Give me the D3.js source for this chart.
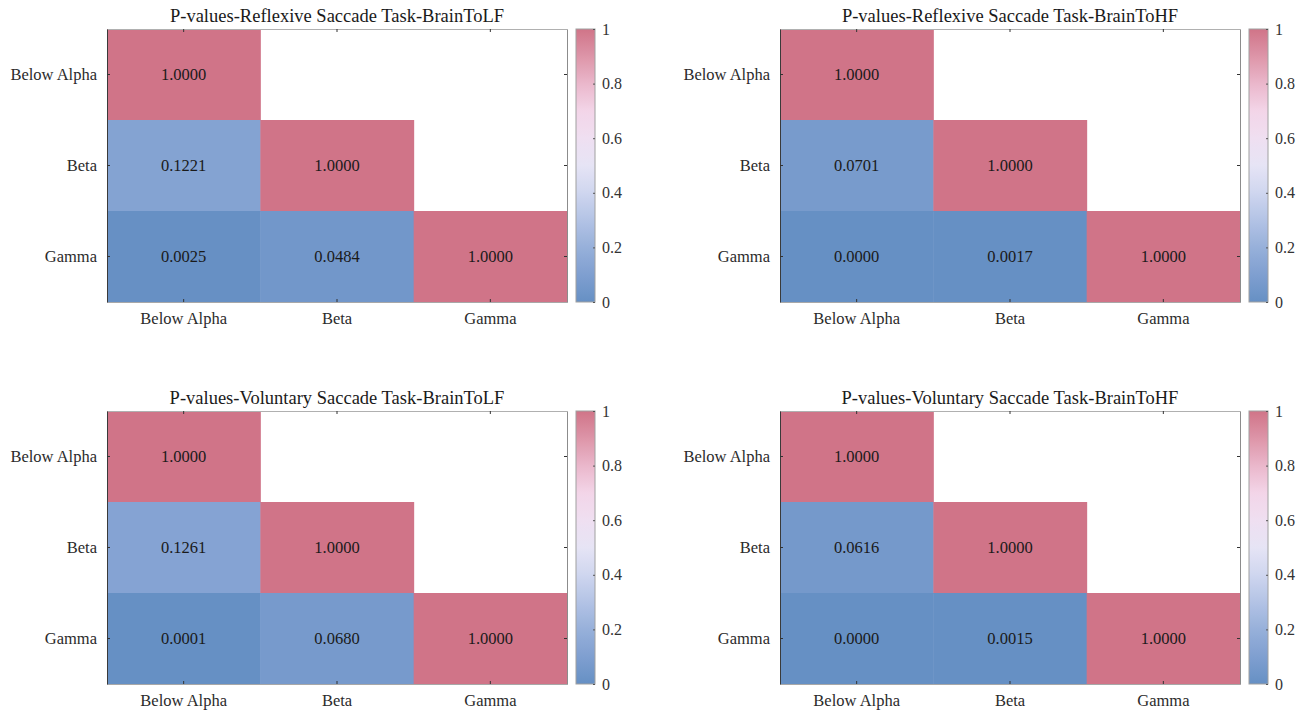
<!DOCTYPE html>
<html>
<head>
<meta charset="utf-8">
<script src="https://cdn.jsdelivr.net/npm/d3@7"></script>
<style>
  html, body { margin: 0; padding: 0; background: #fff; }
  svg text { font-family: "Liberation Serif", "Times New Roman", serif; }
</style>
</head>
<body>
<svg id="chart" width="1305" height="713"></svg>
<script>
// Frequency bands compared in each p-value matrix
const bands = ["Below Alpha", "Beta", "Gamma"];

// Lower-triangular p-value matrices (row i holds columns 0..i)
const reflexiveLF = [[1.0000], [0.1221, 1.0000], [0.0025, 0.0484, 1.0000]];
const reflexiveHF = [[1.0000], [0.0701, 1.0000], [0.0000, 0.0017, 1.0000]];
const voluntaryLF = [[1.0000], [0.1261, 1.0000], [0.0001, 0.0680, 1.0000]];
const voluntaryHF = [[1.0000], [0.0616, 1.0000], [0.0000, 0.0015, 1.0000]];

const titles = [
  "P-values-Reflexive Saccade Task-BrainToLF",
  "P-values-Reflexive Saccade Task-BrainToHF",
  "P-values-Voluntary Saccade Task-BrainToLF",
  "P-values-Voluntary Saccade Task-BrainToHF"
];

// Colour bar ticks
const colorTicks = [0, 0.2, 0.4, 0.6, 0.8, 1];

// Blue -> lavender -> pink diverging colour map
const cmapStops = [0, 0.1, 0.2, 0.3, 0.4, 0.5, 0.6, 0.7, 0.8, 0.9, 1];
const cmapColors = ["#6690c4", "#7f9fd0", "#97b0da", "#b3c3e5", "#cfd6ef", "#e6e4f5",
                    "#efdff1", "#f3d5e8", "#eab7cb", "#dd95a8", "#d07488"];

const color = d3.scaleLinear().domain(cmapStops).range(cmapColors).clamp(true);

const svg = d3.select("#chart");
const plotW = 460, plotH = 273;

// Gradient shared by every colour bar
const defs = svg.append("defs");
const grad = defs.append("linearGradient")
  .attr("id", "cbar").attr("x1", 0).attr("y1", 1).attr("x2", 0).attr("y2", 0);
d3.range(0, 1.0001, 0.02).forEach(t => {
  grad.append("stop").attr("offset", t).attr("stop-color", color(t));
});

const matrices = [reflexiveLF, reflexiveHF, voluntaryLF, voluntaryHF];
const origins = [[107, 29], [780, 29], [107, 411], [780, 411]];

matrices.forEach((mat, k) => {
  const [ox, oy] = origins[k];
  const g = svg.append("g").attr("transform", `translate(${ox},${oy})`);

  const x = d3.scaleBand().domain(bands).range([0, plotW]);
  const y = d3.scaleBand().domain(bands).range([0, plotH]);

  const cells = [];
  mat.forEach((row, i) => row.forEach((v, j) => cells.push({ r: bands[i], c: bands[j], v })));

  g.selectAll("rect.cell").data(cells).join("rect")
    .attr("class", "cell")
    .attr("x", d => x(d.c))
    .attr("y", d => y(d.r))
    .attr("width", x.bandwidth() + 0.5)
    .attr("height", y.bandwidth() + 0.5)
    .attr("fill", d => color(d.v));

  g.selectAll("text.val").data(cells).join("text")
    .attr("class", "val")
    .attr("x", d => x(d.c) + x.bandwidth() / 2)
    .attr("y", d => y(d.r) + y.bandwidth() / 2)
    .attr("dy", "0.35em")
    .attr("text-anchor", "middle")
    .attr("font-size", 16.5)
    .attr("fill", "#1a1a1a")
    .text(d => d.v.toFixed(4));

  // Axes box with inward ticks on all four sides
  const styleAxis = (sel, lineColor) => {
    sel.select(".domain").attr("stroke", lineColor);
    sel.selectAll(".tick line").attr("stroke", "#333");
    sel.selectAll(".tick text").attr("font-size", 16.5).attr("fill", "#2b2b2b")
      .attr("font-family", "Liberation Serif, Times New Roman, serif");
  };

  g.append("g").attr("transform", `translate(0,${plotH})`)
    .call(d3.axisBottom(x).tickSize(-3).tickSizeOuter(0).tickPadding(10))
    .call(s => styleAxis(s, "#a8a8a8"));
  g.append("g")
    .call(d3.axisTop(x).tickSize(-3).tickSizeOuter(0).tickFormat(""))
    .call(s => styleAxis(s, "#b0b0b0"));
  g.append("g").attr("transform", `translate(${plotW},0)`)
    .call(d3.axisRight(y).tickSize(-3).tickSizeOuter(0).tickFormat(""))
    .call(s => styleAxis(s, "#8c8c8c"));
  g.append("g")
    .call(d3.axisLeft(y).tickSize(-3).tickSizeOuter(0).tickPadding(10))
    .call(s => styleAxis(s, "#3a3a3a"));

  g.selectAll(".domain").attr("stroke-width", 1);

  // Title
  g.append("text")
    .attr("x", plotW / 2).attr("y", -7)
    .attr("text-anchor", "middle")
    .attr("font-size", 18.5)
    .attr("fill", "#1a1a1a")
    .text(titles[k]);

  // Colour bar
  const cb = g.append("g").attr("transform", `translate(${plotW + 9},0)`);
  const cbW = 19;
  cb.append("rect").attr("width", cbW).attr("height", plotH)
    .attr("fill", "url(#cbar)").attr("stroke", "#a0a0a0").attr("stroke-width", 1);
  const cy = d3.scaleLinear().domain([0, 1]).range([plotH, 0]);
  cb.append("g").attr("transform", `translate(${cbW},0)`)
    .call(d3.axisRight(cy).tickValues(colorTicks).tickSize(-2).tickSizeOuter(0)
      .tickPadding(7).tickFormat(d3.format("~g")))
    .call(s => {
      s.select(".domain").remove();
      s.selectAll(".tick line").attr("stroke", "#555");
      s.selectAll(".tick text").attr("font-size", 16).attr("fill", "#333")
        .attr("font-family", "Liberation Serif, Times New Roman, serif");
    });
});
</script>
</body>
</html>
